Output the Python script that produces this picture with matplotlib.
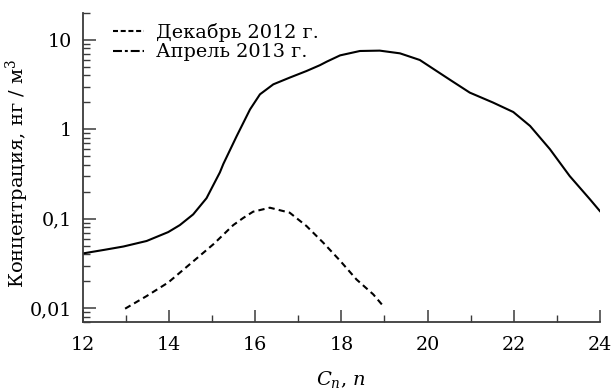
import numpy as np
import matplotlib.pyplot as plt
from matplotlib.lines import Line2D
from matplotlib.ticker import FixedLocator, FixedFormatter, LogLocator, NullFormatter

plt.rcParams['font.family'] = ['DejaVu Serif']
plt.rcParams['mathtext.fontset'] = 'dejavuserif'

# April 2013 (drawn solid)
apr_x = [12, 12.5, 12.94, 13.48, 13.98, 14.25, 14.56, 14.87, 14.99, 15.18,
         15.26, 15.41, 15.57, 15.88, 16.11, 16.42, 16.8, 17.19, 17.5, 17.66,
         17.97, 18.43, 18.89, 19.36, 19.82, 20.21, 20.55, 20.98, 21.52,
         21.99, 22.38, 22.84, 23.3, 23.77, 24]
apr_y = [0.041, 0.045, 0.049, 0.0565, 0.071, 0.085, 0.112, 0.17, 0.22, 0.33,
         0.41, 0.58, 0.84, 1.67, 2.46, 3.18, 3.78, 4.48, 5.2, 5.7,
         6.7, 7.5, 7.57, 7.06, 5.95, 4.48, 3.5, 2.57, 1.99,
         1.56, 1.09, 0.6, 0.3, 0.165, 0.122]

# December 2012 (dashed)
dec_x = [12.98, 13.48, 13.98, 14.48, 15.03, 15.49, 15.72, 15.95, 16.34,
         16.8, 17.19, 17.58, 17.97, 18.35, 18.74, 18.97]
dec_y = [0.0099, 0.0137, 0.0194, 0.031, 0.052, 0.085, 0.102, 0.12, 0.133,
         0.117, 0.083, 0.054, 0.034, 0.021, 0.0143, 0.0106]

y_ticks = [0.01, 0.1, 1, 10]
y_labels = ['0,01', '0,1', '1', '10']

fig = plt.figure(figsize=(6.14, 3.9), dpi=100)
ax = fig.add_axes([0.135, 0.174, 0.842, 0.793])

ax.plot(dec_x, dec_y, color='black', lw=1.5, ls=(0, (3, 2)))
ax.plot(apr_x, apr_y, color='black', lw=1.5)

ax.set_yscale('log')
ax.set_xlim(12, 24)
ax.set_ylim(0.007, 20)
ax.yaxis.set_major_locator(FixedLocator(y_ticks))
ax.yaxis.set_major_formatter(FixedFormatter(y_labels))
ax.yaxis.set_minor_locator(LogLocator(subs=np.arange(2, 10)))
ax.yaxis.set_minor_formatter(NullFormatter())
ax.set_xticks(range(12, 25, 2))
ax.set_xticks(range(13, 25, 2), minor=True)

for s in ['top', 'right']:
    ax.spines[s].set_visible(False)
for s in ['left', 'bottom']:
    ax.spines[s].set_linewidth(1.3)
    ax.spines[s].set_color('#3a3a3a')
ax.tick_params(which='major', direction='in', length=9, width=1.1,
               labelsize=13.8, color='#3a3a3a')
ax.tick_params(which='minor', direction='in', length=5, width=1.0,
               color='#3a3a3a')
ax.tick_params(axis='x', which='major', pad=10)
ax.tick_params(axis='y', which='major', pad=8)

ax.set_ylabel('Концентрация, нг / м$^3$', fontsize=14)
ax.yaxis.set_label_coords(-0.1, 0.48)
ax.set_xlabel('$C_n$, $n$', fontsize=14)
ax.xaxis.set_label_coords(0.5, -0.15)

handles = [Line2D([], [], color='black', lw=1.5, ls=(0, (2.4, 1.3))),
           Line2D([], [], color='black', lw=1.5, ls=(0, (4.3, 1.4, 1.4, 1.4)))]
ax.legend(handles, ['Декабрь 2012 г.', 'Апрель 2013 г.'], loc='upper left',
          bbox_to_anchor=(0.04, 1.0), frameon=False, fontsize=13.9,
          handlelength=1.6, handletextpad=0.6, labelspacing=0.1,
          borderaxespad=0.3, borderpad=0.2)

fig.savefig('out.png', dpi=100)
